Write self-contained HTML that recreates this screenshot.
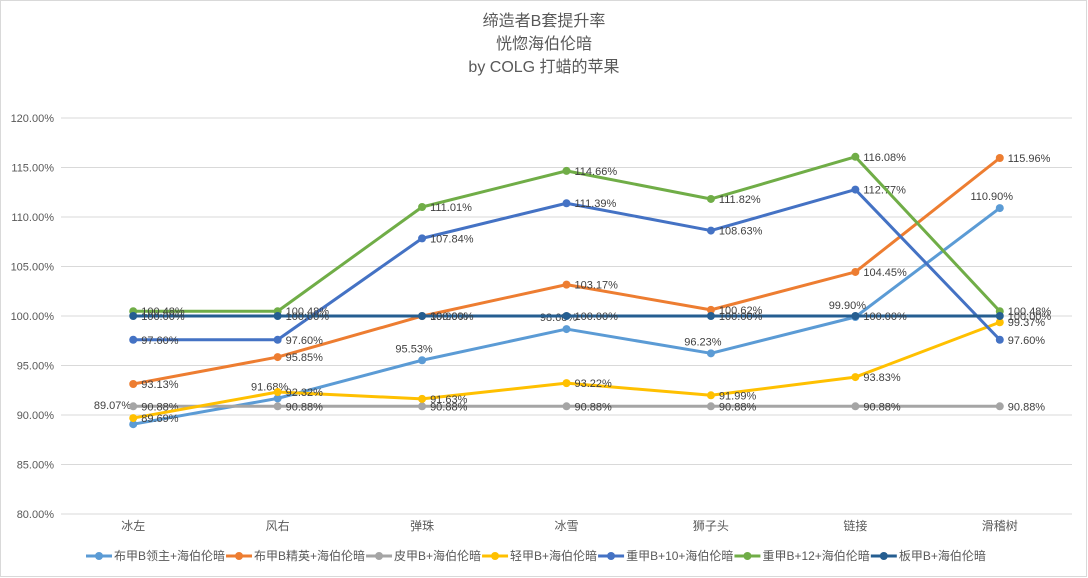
<!DOCTYPE html>
<html><head><meta charset="utf-8"><style>
body{margin:0;background:#fff;}
svg{display:block;font-family:"Liberation Sans","Noto Sans CJK SC",sans-serif;}
</style></head><body>
<svg id="c" width="1088" height="578" viewBox="0 0 1088 578">
<rect x="0.5" y="0.5" width="1086" height="576" fill="#fff" stroke="#d9d9d9"/>
<text x="544" y="26" text-anchor="middle" font-size="16" fill="#595959">缔造者B套提升率</text>
<text x="544" y="49" text-anchor="middle" font-size="16" fill="#595959">恍惚海伯伦暗</text>
<text x="544" y="72" text-anchor="middle" font-size="16" fill="#595959">by COLG 打蜡的苹果</text>
<g id="grid"></g><g id="series"></g><g id="legend"></g>
</svg>
<script>
const categories=["冰左","风右","弹珠","冰雪","狮子头","链接","滑稽树"];
const yTicks=[80,85,90,95,100,105,110,115,120];
const names=["布甲B领主+海伯伦暗","布甲B精英+海伯伦暗","皮甲B+海伯伦暗","轻甲B+海伯伦暗","重甲B+10+海伯伦暗","重甲B+12+海伯伦暗","板甲B+海伯伦暗"];
const colors=["#5b9bd5","#ed7d31","#a5a5a5","#ffc000","#4472c4","#70ad47","#255e91"];
const sClothLord=[89.07,91.68,95.53,98.68,96.23,99.90,110.90];
const sClothElite=[93.13,95.85,99.99,103.17,100.62,104.45,115.96];
const sLeather=[90.88,90.88,90.88,90.88,90.88,90.88,90.88];
const sLight=[89.69,92.32,91.63,93.22,91.99,93.83,99.37];
const sHeavy10=[97.60,97.60,107.84,111.39,108.63,112.77,97.60];
const sHeavy12=[100.48,100.48,111.01,114.66,111.82,116.08,100.48];
const sPlate=[100.00,100.00,100.00,100.00,100.00,100.00,100.00];
const series=[sClothLord,sClothElite,sLeather,sLight,sHeavy10,sHeavy12,sPlate];
const NS="http://www.w3.org/2000/svg";
const L=61,R=1072,T=118,B=514,ymin=80,ymax=120;
const bw=(R-L)/categories.length;
const x=i=>L+bw*(i+0.5);
const y=v=>B-(v-ymin)/(ymax-ymin)*(B-T);
function mk(tag,attrs,parent,txt){const e=document.createElementNS(NS,tag);for(const k in attrs)e.setAttribute(k,attrs[k]);if(txt!==undefined)e.textContent=txt;parent.appendChild(e);return e;}
const grid=document.getElementById('grid');
yTicks.forEach(t=>{
 const l=mk('line',{x1:L,x2:R,y1:y(t),y2:y(t),stroke:'#d9d9d9','stroke-width':1},grid);
 
 
 const tx=mk('text',{x:54,y:y(t)+4,'text-anchor':'end','font-size':11,fill:'#595959'},grid,t.toFixed(2)+'%');
 
 
});
categories.forEach((c,i)=>{
 const tx=mk('text',{x:x(i),y:530,'text-anchor':'middle','font-size':12,fill:'#595959'},grid,c);
 
 
});
const sg=document.getElementById('series');
series.forEach((s,k)=>{
 const g=mk('g',{},sg);
 
 
 const p=mk('polyline',{points:s.map((v,i)=>x(i)+','+y(v)).join(' '),fill:'none',stroke:colors[k],'stroke-width':3,'stroke-linejoin':'round'},g);
 
 
 s.forEach((v,i)=>{
  const c=mk('circle',{cx:x(i),cy:y(v),r:4,fill:colors[k]},g);
  
  
  let lx=x(i)+8,ly=y(v)+4,anc='start';
  if(k===0){lx=x(i)-8;ly=y(v)-8;anc='middle';if(i===0){lx=x(i)-2;ly=y(v)-15;anc='end';}}
  const t=mk('text',{x:lx,y:ly,'text-anchor':anc,'font-size':11,fill:'#404040'},g,v.toFixed(2)+'%');
  
  
 });
});
const lg=document.getElementById('legend');
let lx=86;
names.forEach((n,k)=>{
 const g=mk('g',{},lg);
 
 
 mk('line',{x1:lx,x2:lx+26,y1:556,y2:556,stroke:colors[k],'stroke-width':3},g);
 mk('circle',{cx:lx+13,cy:556,r:4,fill:colors[k]},g);
 const t=mk('text',{x:lx+28,y:560,'font-size':12,fill:'#595959'},g,n);
 lx+=28+t.getComputedTextLength()+1;
});
</script>
</body></html>
